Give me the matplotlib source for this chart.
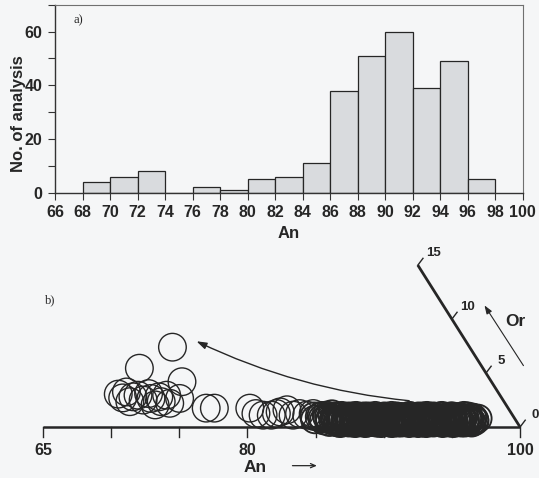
import numpy as np
import matplotlib
matplotlib.use("Agg")
import matplotlib.pyplot as plt
from matplotlib.ticker import MultipleLocator

plt.rcParams['font.family'] = ['Liberation Sans', 'DejaVu Sans']

# histogram of plagioclase compositions (An bins of 2)
bin_edges = [68, 70, 72, 74, 76, 78, 80, 82, 84, 86, 88, 90, 92, 94, 96]
counts = [4, 6, 8, 0, 2, 1, 5, 6, 11, 38, 51, 60, 39, 49, 5]

# individual analyses, An and Or (mol %)
an_sparse = [70.8, 69.35, 73.1,
             69.0, 69.5, 70.2, 70.2, 70.5, 71.1, 71.2, 71.6, 72.1, 72.5, 72.6, 73.2, 73.7, 69.5, 72.2,
             76.1, 76.7,
             79.3, 80.0, 80.6, 81.2, 81.5, 81.7, 82.1, 82.8, 83.2, 83.8, 84.2, 84.8, 85.25]
or_sparse = [7.4, 5.45, 4.2,
             3.05, 3.25, 2.35, 2.8, 2.95, 2.5, 3.1, 2.65, 2.8, 2.35, 2.95, 2.2, 2.65, 2.7, 2.05,
             1.75, 1.75,
             1.75, 1.25, 1.1, 1.1, 1.25, 1.4, 1.6, 1.1, 1.25, 1.1, 1.25, 0.95, 1.1]

an_84 = [85.4, 85.6, 85.7, 85.9, 86.0,
         84.4, 84.6, 84.9, 85.1, 85.3, 85.5, 85.8, 86.05, 86.4, 86.65, 86.95, 87.25, 87.45,
         87.75, 88.05, 88.45, 88.85, 89.25, 89.65, 90.05, 90.45, 90.85, 91.35, 91.7, 92.05,
         92.35, 92.65, 92.95, 93.15, 93.45, 93.75, 94.15, 94.55, 94.95, 95.35, 95.75, 96.05, 96.25]
or_84 = [0.9, 1.2, 0.7, 1.0, 0.6,
         1.0, 0.7, 1.05, 0.8, 0.6, 0.95, 0.45, 0.75, 1.05, 0.35, 1.0, 0.4, 1.05,
         0.35, 1.0, 0.35, 1.05, 0.4, 0.35, 1.05, 0.35, 0.4, 1.05, 0.35, 1.0,
         0.35, 1.05, 0.35, 1.0, 0.4, 1.05, 0.35, 1.0, 0.35, 1.05, 0.4, 0.9, 0.4]

an_86 = [86.1, 86.2, 86.3, 86.35, 86.5, 86.6, 86.7, 86.75, 86.9, 87.0, 87.05, 87.2, 87.3,
         87.35, 87.5, 87.55, 87.6, 87.7, 87.8, 87.85, 87.9, 88.0, 86.45, 86.85, 87.15, 87.65]
or_86 = [0.9, 0.5, 0.7, 1.0, 0.6, 0.8, 0.45, 0.95, 0.7, 0.55, 0.85, 0.6, 1.0,
         0.5, 0.75, 0.9, 0.4, 0.65, 0.85, 0.55, 0.7, 0.95, 0.4, 0.6, 0.8, 0.5]

an_88 = [88.1, 88.15, 88.2, 88.3, 88.35, 88.4, 88.5, 88.55, 88.6, 88.7, 88.75, 88.8, 88.9,
         88.95, 89.0, 89.1, 89.15, 89.2, 89.3, 89.35, 89.4, 89.5, 89.55, 89.6, 89.7, 89.75,
         89.8, 89.9, 89.95, 88.25, 88.65, 89.05, 89.45, 89.85]
or_88 = [0.6, 0.85, 0.45, 0.75, 1.0, 0.55, 0.7, 0.9, 0.4, 0.65, 0.95, 0.5, 0.8,
         0.6, 0.7, 0.45, 0.9, 0.55, 0.85, 0.65, 0.4, 0.75, 1.0, 0.5, 0.6, 0.85,
         0.7, 0.45, 0.9, 0.65, 0.8, 0.5, 0.95, 0.6]

an_90 = [90.0, 90.05, 90.1, 90.2, 90.25, 90.3, 90.4, 90.45, 90.5, 90.6, 90.65, 90.7, 90.8,
         90.85, 90.9, 91.0, 91.05, 91.1, 91.2, 91.25, 91.3, 91.4, 91.45, 91.5, 91.6, 91.65,
         91.7, 91.8, 91.85, 91.9, 90.15, 90.35, 90.55, 90.75, 90.95, 91.15, 91.55, 91.75]
or_90 = [0.75, 0.5, 0.9, 0.6, 0.4, 0.85, 0.7, 1.0, 0.55, 0.65, 0.8, 0.45, 0.95,
         0.6, 0.7, 0.5, 0.85, 0.4, 0.75, 0.9, 0.55, 0.65, 1.0, 0.45, 0.8, 0.6,
         0.7, 0.95, 0.5, 0.85, 0.65, 0.55, 0.75, 0.9, 0.45, 0.6, 0.8, 0.7]

an_92 = [92.0, 92.1, 92.15, 92.2, 92.3, 92.4, 92.45, 92.5, 92.6, 92.7, 92.75, 92.8, 92.9,
         93.0, 93.05, 93.1, 93.2, 93.3, 93.35, 93.4, 93.5, 93.6, 93.65, 93.7, 93.8, 93.9,
         92.55, 93.25]
or_92 = [0.6, 0.9, 0.45, 0.75, 0.55, 1.0, 0.7, 0.5, 0.85, 0.6, 0.4, 0.8, 0.65,
         0.95, 0.5, 0.7, 0.85, 0.45, 0.6, 0.9, 0.55, 0.75, 1.0, 0.5, 0.65, 0.8,
         0.7, 0.55]

an_94 = [94.0, 94.05, 94.1, 94.2, 94.25, 94.3, 94.4, 94.45, 94.5, 94.6, 94.65, 94.7, 94.8,
         94.85, 94.9, 95.0, 95.05, 95.1, 95.2, 95.25, 95.3, 95.4, 95.45, 95.5, 95.6, 95.65,
         95.7, 95.8, 95.85, 95.9, 94.35, 95.15,
         96.0, 96.1, 96.2, 96.3, 96.4, 96.5]
or_94 = [0.7, 0.45, 0.9, 0.6, 0.8, 0.5, 1.0, 0.65, 0.55, 0.85, 0.4, 0.75, 0.6,
         0.95, 0.5, 0.7, 0.85, 0.45, 0.65, 0.9, 0.55, 0.8, 0.6, 0.4, 0.75, 1.0,
         0.5, 0.7, 0.85, 0.6, 0.65, 0.55,
         0.6, 0.85, 0.5, 0.7, 0.55, 0.8]

an_ticks = [65, 70, 75, 80, 85, 90, 95, 100]
an_labels = {65: '65', 80: '80', 100: '100'}
or_ticks = [0, 5, 10, 15]

ink = '#262626'
paper = '#f5f6f7'
SQ3 = np.sqrt(3) / 2


def tern(an, orr):
    an = np.asarray(an, dtype=float)
    orr = np.asarray(orr, dtype=float)
    return an + orr / 2, orr * SQ3


fig = plt.figure(figsize=(5.39, 4.78), dpi=100, facecolor=paper)

# ---- a) histogram
ax1 = fig.add_axes([55 / 539, 1 - 192.7 / 478, 467.7 / 539, 188 / 478])
ax1.set_facecolor(paper)
ax1.bar(bin_edges, counts, width=2, align='edge', color='#d9dbde',
        edgecolor=ink, linewidth=0.9)
ax1.set_xlim(66, 100)
ax1.set_ylim(0, 70)
ax1.set_xticks(range(66, 101, 2))
ax1.set_yticks([0, 20, 40, 60])
ax1.yaxis.set_minor_locator(MultipleLocator(10))
ax1.tick_params(which='both', direction='out', length=5, width=0.8, color='#333333',
                labelsize=11.5, labelcolor=ink, pad=4)
for lbl in ax1.get_xticklabels() + ax1.get_yticklabels():
    lbl.set_fontweight('bold')
ax1.set_xlabel('An', fontsize=12, fontweight='bold', color=ink, labelpad=4)
ax1.set_ylabel('No. of analysis', fontsize=12, fontweight='bold', color=ink)
ax1.yaxis.set_label_coords(-0.062, 0.42)
for side in ['left', 'bottom']:
    ax1.spines[side].set_color('#333333')
    ax1.spines[side].set_linewidth(1.0)
for side in ['top', 'right']:
    ax1.spines[side].set_color('#707070')
    ax1.spines[side].set_linewidth(0.8)
ax1.text(0.04, 0.9, 'a)', transform=ax1.transAxes, family='Liberation Serif',
         fontsize=9, color=ink)

# ---- b) An-Or part of the feldspar triangle
ax2 = fig.add_axes([0, 0, 1, 238 / 478])
ax2.set_axis_off()
ax2.set_xlim(61.85, 101.39)
ax2.set_ylim(-4.09, 15.01)

x, y = tern(an_sparse, or_sparse)
ax2.scatter(x, y, s=395, facecolors='none', edgecolors=ink, linewidths=1.0, zorder=3)
dense = [(an_84, or_84), (an_86, or_86), (an_88, or_88),
         (an_90, or_90), (an_92, or_92), (an_94, or_94)]
for a_vals, o_vals in dense:
    x, y = tern(a_vals, o_vals)
    ax2.scatter(x, y, s=395, facecolors='none', edgecolors=ink, linewidths=1.35, zorder=3)

# An edge
ax2.plot([an_ticks[0], an_ticks[-1]], [0, 0], color=ink, lw=1.8, solid_capstyle='butt', zorder=2)
for t in an_ticks:
    ax2.plot([t, t], [0, -0.8], color=ink, lw=1.0, zorder=2)
    if t in an_labels:
        ax2.text(t, -1.85, an_labels[t], ha='center', va='center', fontsize=11.5,
                 fontweight='bold', color=ink)

# Or edge
ox, oy = tern([100 - or_ticks[0], 100 - or_ticks[-1]], [or_ticks[0], or_ticks[-1]])
ax2.plot(ox, oy, color=ink, lw=2.0, solid_capstyle='butt', zorder=2)
for t in or_ticks:
    tx, ty = tern(100 - t, t)
    ax2.plot([tx, tx + 0.38], [ty, ty + 0.55], color=ink, lw=1.0)
    ax2.annotate(str(t), (tx, ty), xytext=(11, 8.5), textcoords='offset points',
                 ha='center', va='center', fontsize=9.5, fontweight='bold', color=ink)

ax2.annotate('', xy=(97.28, 9.95), xytext=(100.36, 4.74),
             arrowprops=dict(arrowstyle='-|>,head_length=0.5,head_width=0.18',
                             color=ink, lw=0.8))
ax2.text(99.63, 8.43, 'Or', ha='center', va='center', fontsize=12.5,
         fontweight='bold', color=ink)

# trend arrow towards low An / higher Or
ax2.annotate('', xy=(76.08, 6.98), xytext=(92.07, 2.09),
             arrowprops=dict(arrowstyle='-|>,head_length=0.6,head_width=0.2',
                             connectionstyle='arc3,rad=-0.09', color=ink, lw=1.0))

ax2.text(80.55, -3.25, 'An', ha='center', va='center', fontsize=12.5,
         fontweight='bold', color=ink)
ax2.annotate('', xy=(85.3, -3.1), xytext=(83.1, -3.1),
             arrowprops=dict(arrowstyle='->,head_length=0.35,head_width=0.15',
                             color=ink, lw=0.9))
ax2.text(65.5, 10.2, 'b)', ha='center', va='center', family='Liberation Serif',
         fontsize=9, color=ink)

fig.savefig('out.png', dpi=100, facecolor=paper)
